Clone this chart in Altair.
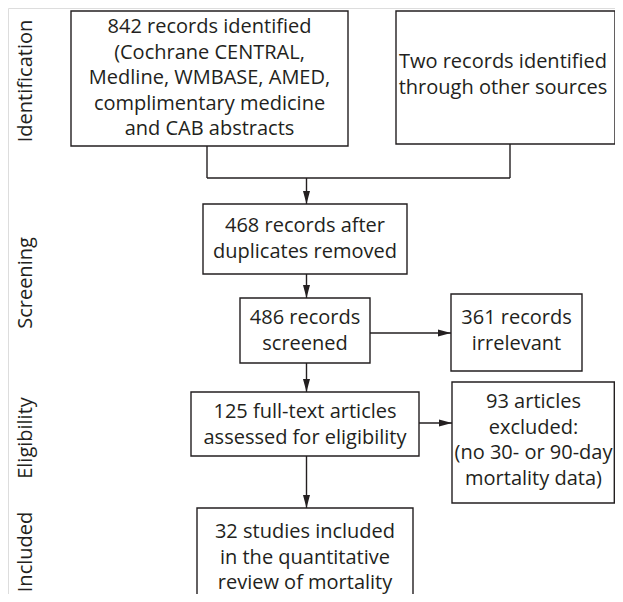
import altair as alt
import pandas as pd

# ---- content ----
stage_labels = ["Identification", "Screening", "Eligibility", "Included"]
stage_y = [81, 283, 438, 552]

box_texts = [
    "842 records identified\n(Cochrane CENTRAL,\nMedline, WMBASE, AMED,\ncomplimentary medicine\nand CAB abstracts",
    "Two records identified\nthrough other sources",
    "468 records after\nduplicates removed",
    "486 records\nscreened",
    "361 records\nirrelevant",
    "125 full-text articles\nassessed for eligibility",
    "93 articles\nexcluded:\n(no 30- or 90-day\nmortality data)",
    "32 studies included\nin the quantitative\nreview of mortality",
]

# ---- layout (pixel coordinates of the page) ----
box_x1 = [71, 396, 203, 240, 451, 191, 452, 197]
box_x2 = [348, 615, 407, 370, 582, 419, 614.3, 413]
box_y1 = [11, 11, 204, 298, 294, 392, 382, 508]
box_y2 = [146, 144, 274, 363, 371, 456, 503, 640]
text_x = [209.5, 503, 305, 305, 516.5, 305, 533.5, 305]
text_y = [27, 62, 226, 318, 318, 412, 402, 532]   # first line of each box

line_x1 = [207, 510, 207, 306.5, 306.5, 370, 306.5, 419, 306.5]
line_y1 = [146, 144, 178, 178, 274, 333, 363, 423, 456]
line_x2 = [207, 510, 510, 306.5, 306.5, 451, 306.5, 452, 306.5]
line_y2 = [178, 178, 178, 204, 298, 333, 392, 423, 508]

down_x = [306.5, 306.5, 306.5, 306.5]
down_y = [204, 298, 392, 508]
right_x = [451, 452]
right_y = [333, 423]

INK = "#231f20"
FONT = "Open Sans"
FS = 20

boxes = pd.DataFrame({"x": box_x1, "x2": box_x2, "y": box_y1, "y2": box_y2})
texts = pd.DataFrame({"x": text_x, "y": text_y, "t": box_texts})
lines = pd.DataFrame({"x": line_x1, "y": line_y1, "x2": line_x2, "y2": line_y2})
downs = pd.DataFrame({"x": down_x, "y": down_y})
rights = pd.DataFrame({"x": right_x, "y": right_y})
stages = pd.DataFrame({"x": [26] * 4, "y": stage_y, "t": stage_labels})

xs = alt.Scale(domain=[8, 615], nice=False, zero=False)
ys = alt.Scale(domain=[8, 594], nice=False, zero=False, reverse=True)
X = alt.X("x:Q", scale=xs, axis=None)
Y = alt.Y("y:Q", scale=ys, axis=None)

rule_layer = alt.Chart(lines).mark_rule(color=INK, strokeWidth=1.4, clip=True).encode(
    x=X, y=Y, x2="x2:Q", y2="y2:Q")

box_layer = alt.Chart(boxes).mark_rect(
    fill="white", stroke=INK, strokeWidth=1.4, clip=True).encode(
    x=X, y=Y, x2="x2:Q", y2="y2:Q")

text_layer = alt.Chart(texts).mark_text(
    font=FONT, fontSize=FS, lineBreak="\n", lineHeight=25.5, color=INK,
    align="center", baseline="middle").encode(x=X, y=Y, text="t:N")

down_layer = alt.Chart(downs).mark_point(
    shape="M0,0 L-0.54,-2 L0.54,-2 Z", size=169, filled=True, color=INK, opacity=1,
    strokeWidth=0).encode(x=X, y=Y)

right_layer = alt.Chart(rights).mark_point(
    shape="M0,0 L-2,-0.54 L-2,0.54 Z", size=169, filled=True, color=INK, opacity=1,
    strokeWidth=0).encode(x=X, y=Y)

stage_layer = alt.Chart(stages).mark_text(
    font=FONT, fontSize=FS, angle=270, color=INK,
    align="center", baseline="middle").encode(x=X, y=Y, text="t:N")

chart = alt.layer(
    rule_layer, box_layer, text_layer, down_layer, right_layer, stage_layer
).properties(
    width=607, height=586, padding=0, autosize=alt.AutoSizeParams(type="none")
).configure_view(stroke=None).configure(background="white")

chart.save("out.html", embed_options={"renderer": "svg", "actions": False})
